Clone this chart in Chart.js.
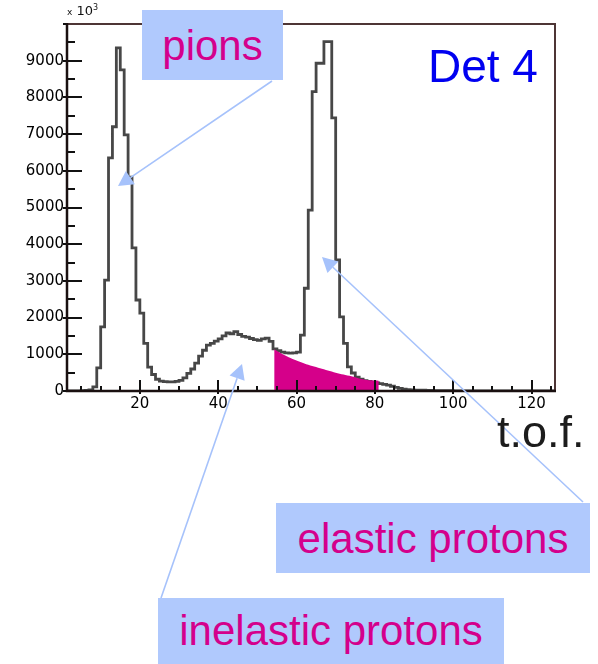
<!DOCTYPE html>
<html>
<head>
<meta charset="utf-8">
<title>Det 4 - t.o.f.</title>
<script src="https://cdn.jsdelivr.net/npm/chart.js@4.4.0/dist/chart.umd.min.js"></script>
<style>
  body { margin: 0; background: #fff; }
  #wrap { position: relative; width: 598px; height: 664px; overflow: hidden; font-family: "Liberation Sans", Arial, sans-serif; }
  #chart { position: absolute; left: 0; top: 0; }
  .box { position: absolute; background: #b0c9fd; color: #d4008c; font-size: 42px; text-align: center; white-space: nowrap; }
  .txt { position: absolute; white-space: nowrap; }
</style>
</head>
<body>
<div id="wrap">
  <canvas id="chart" width="598" height="664"></canvas>
  <div class="txt" id="expo" style="left:67px;top:3px;font-size:13px;color:#111;font-family:'DejaVu Sans',sans-serif;"><span style="font-size:9px;">x</span> 10<sup style="font-size:8px;">3</sup></div>
  <div class="txt" style="left:428px;top:43px;font-size:46px;line-height:46px;color:#0000f0;">Det 4</div>
  <div class="txt" style="left:497px;top:409px;font-size:45px;line-height:45px;color:#1c1c1c;">t.o.f.</div>
  <div class="box" style="left:142px;top:10px;width:141px;height:70px;line-height:72px;">pions</div>
  <div class="box" style="left:276px;top:503px;width:314px;height:70px;line-height:72px;">elastic protons</div>
  <div class="box" style="left:158px;top:598px;width:346px;height:66px;line-height:66px;">inelastic protons</div>
</div>
<script>
  // histogram binning (bin i covers [binStart + i*binWidth, binStart + (i+1)*binWidth])
  const binStart = 1;
  const binWidth = 1;

  // counts per bin, bins 1..125
  const counts = [
    0, 0, 5, 5, 10, 15, 30, 110, 630, 1750,
    3020, 6350, 7200, 9350, 8750, 6980, 5830, 3900, 2480, 2120,
    1300, 650, 450, 320, 270, 255, 250, 250, 260, 290,
    360, 480, 600, 760, 950, 1110, 1250, 1300, 1360, 1420,
    1500, 1580, 1560, 1620, 1540, 1490, 1470, 1430, 1400, 1380,
    1420, 1440, 1350, 1150, 1100, 1060, 1040, 1030, 1040, 1060,
    1525, 2800, 4930, 8160, 8930, 8930, 9520, 9520, 7440, 3570,
    2020, 1300, 660, 490, 380, 320, 280, 260, 240, 220,
    200, 180, 160, 130, 100, 70, 50, 40, 30, 25,
    20, 20, 15, 15, 12, 10, 10, 8, 8, 6,
    5, 5, 4, 4, 3, 3, 3, 2, 2, 2,
    2, 2, 1, 1, 1, 1, 1, 1, 1, 0,
    0, 0, 0, 0, 0
  ];

  // shaded (magenta) region under the elastic peak
  const shadeX = [54.3, 56, 58, 60, 62, 64, 66, 68, 70, 72, 74, 76, 78, 80, 81];
  const shadeY = [1140, 1030, 920, 830, 750, 680, 620, 560, 500, 450, 400, 340, 300, 285, 280];

  // axis ranges and ticks
  const xMin = 1.4, xMax = 126;
  const yMin = 0, yMax = 10000;
  const xMajorTicks = [20, 40, 60, 80, 100, 120];
  const xMinorStep = 5;
  const yMajorStep = 1000;
  const yMinorStep = 500;

  // build step points for the histogram
  function histPoints() {
    const pts = counts.map((c, i) => ({ x: binStart + i * binWidth, y: c }));
    pts.push({ x: binStart + counts.length * binWidth, y: counts[counts.length - 1] });
    return pts;
  }

  // frame + inward ticks, ROOT style
  const framePlugin = {
    id: "frame",
    afterDatasetsDraw(chart) {
      const { ctx, chartArea: a, scales } = chart;
      const xs = scales.x, ys = scales.y;
      ctx.save();
      ctx.lineCap = "butt";
      // ticks on y
      ctx.strokeStyle = "#111";
      ctx.lineWidth = 2;
      for (let v = yMin; v <= yMax; v += yMinorStep) {
        const y = Math.round(ys.getPixelForValue(v));
        const major = v % yMajorStep === 0;
        ctx.beginPath();
        ctx.moveTo(a.left - (major ? 4 : 0), y);
        ctx.lineTo(a.left + (major ? 15 : 8), y);
        ctx.stroke();
      }
      // ticks on x
      for (let v = Math.ceil(xMin / xMinorStep) * xMinorStep; v <= xMax; v += xMinorStep) {
        const x = Math.round(xs.getPixelForValue(v));
        const major = xMajorTicks.includes(v);
        ctx.beginPath();
        ctx.moveTo(x, a.bottom + (major ? 3 : 0));
        ctx.lineTo(x, a.bottom - (major ? 11 : 5));
        ctx.stroke();
      }
      // top and right edges
      ctx.strokeStyle = "#4d3535";
      ctx.lineWidth = 2;
      ctx.beginPath();
      ctx.moveTo(a.left, a.top);
      ctx.lineTo(a.right, a.top);
      ctx.lineTo(a.right, a.bottom);
      ctx.stroke();
      // axes
      ctx.strokeStyle = "#1a1010";
      ctx.lineWidth = 2.5;
      ctx.beginPath();
      ctx.moveTo(a.left, a.top - 1);
      ctx.lineTo(a.left, a.bottom);
      ctx.lineTo(a.right + 1, a.bottom);
      ctx.stroke();
      ctx.restore();
    }
  };

  // pointer arrows from the label boxes
  const arrows = [
    [272, 81, 118, 186],
    [583, 502, 322, 257],
    [161, 598, 242, 364]
  ];
  const arrowPlugin = {
    id: "arrows",
    afterDraw(chart) {
      const ctx = chart.ctx;
      ctx.save();
      ctx.strokeStyle = "#a6c2fb";
      ctx.fillStyle = "#a6c2fb";
      ctx.lineWidth = 1.6;
      arrows.forEach(([x1, y1, x2, y2]) => {
        const ang = Math.atan2(y2 - y1, x2 - x1);
        const len = 15, half = 8;
        const bx = x2 - len * Math.cos(ang), by = y2 - len * Math.sin(ang);
        ctx.beginPath();
        ctx.moveTo(x1, y1);
        ctx.lineTo(bx, by);
        ctx.stroke();
        ctx.beginPath();
        ctx.moveTo(x2, y2);
        ctx.lineTo(bx + half * Math.sin(ang), by - half * Math.cos(ang));
        ctx.lineTo(bx - half * Math.sin(ang), by + half * Math.cos(ang));
        ctx.closePath();
        ctx.fill();
      });
      ctx.restore();
    }
  };

  document.addEventListener("DOMContentLoaded", function () {
    const tickFont = { family: "'DejaVu Sans', sans-serif", size: 15 };

    new Chart(document.getElementById("chart").getContext("2d"), {
      type: "line",
      data: {
        datasets: [
          {
            label: "shaded",
            data: shadeX.map((x, i) => ({ x: x, y: shadeY[i] })),
            borderWidth: 0,
            borderColor: "rgba(0,0,0,0)",
            backgroundColor: "#d5008a",
            fill: "origin",
            pointRadius: 0,
            tension: 0.3
          },
          {
            label: "t.o.f.",
            data: histPoints(),
            borderColor: "#474747",
            borderWidth: 2.8,
            stepped: "before",
            fill: false,
            pointRadius: 0
          }
        ]
      },
      options: {
        responsive: false,
        animation: false,
        layout: { padding: { top: 24, right: 43, left: 0, bottom: 0 } },
        plugins: {
          legend: { display: false },
          tooltip: { enabled: false }
        },
        scales: {
          x: {
            type: "linear",
            min: xMin,
            max: xMax,
            grid: { display: false, drawTicks: false },
            border: { display: false },
            ticks: {
              stepSize: 20,
              includeBounds: false,
              padding: 4,
              color: "#000",
              font: tickFont,
              maxRotation: 0,
              callback: (v) => (xMajorTicks.includes(v) ? String(v) : "")
            },
            afterFit: (s) => { s.height = 273; }
          },
          y: {
            min: yMin,
            max: yMax,
            grid: { display: false, drawTicks: false },
            border: { display: false },
            ticks: {
              stepSize: yMajorStep,
              padding: 3,
              color: "#000",
              font: tickFont,
              callback: (v) => (v === yMax ? "" : String(v))
            },
            afterFit: (s) => { s.width = 67; }
          }
        }
      },
      plugins: [framePlugin, arrowPlugin]
    });
  });
</script>
</body>
</html>
